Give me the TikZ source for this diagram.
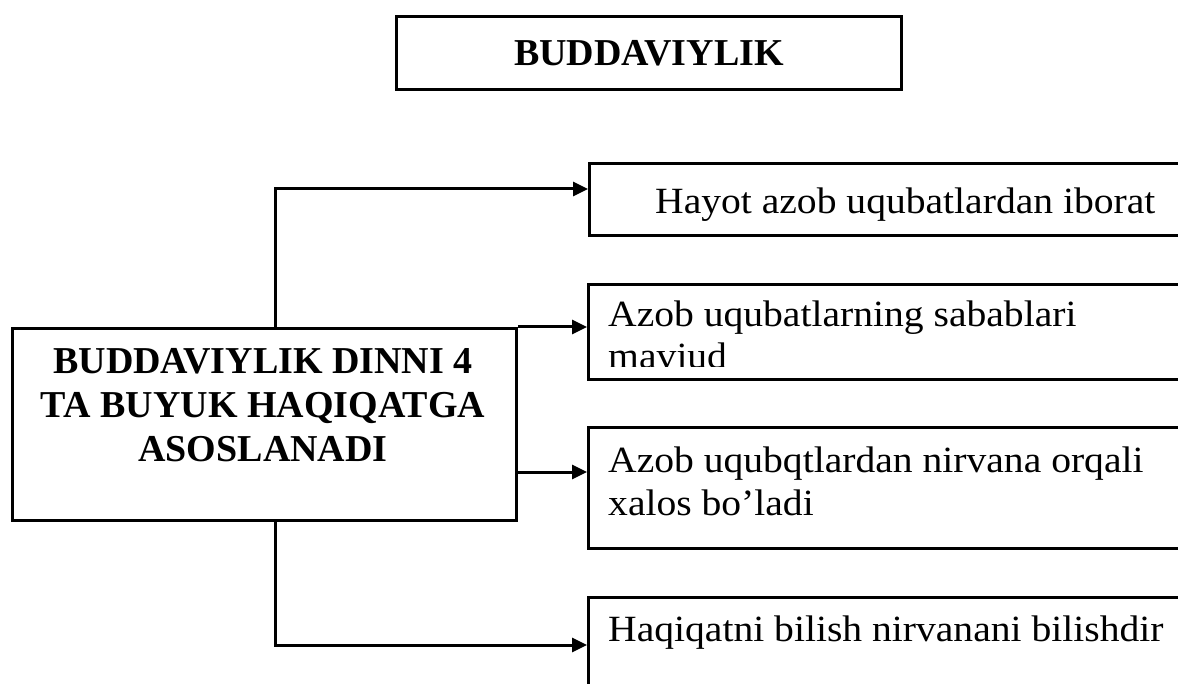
\documentclass[tikz,border=0pt]{standalone}
\usepackage{fontspec}
\setmainfont{Liberation Serif}
\newfontfamily\wideserif[FakeStretch=1.07]{Liberation Serif}
\usetikzlibrary{arrows.meta}
\tikzset{
  box/.style={draw, line width=3pt, rectangle, inner sep=0pt, anchor=north west},
  arr/.style={line width=3pt, -{Triangle[length=15pt,width=14pt]}},
  bigtxt/.style={font=\fontsize{38}{44}\selectfont\bfseries, align=center, inner sep=0pt},
  txt/.style={font=\wideserif\fontsize{37}{42}\selectfont, align=left, inner sep=0pt, anchor=base west},
}
\begin{document}
\begin{tikzpicture}[x=1pt,y=-1pt]
\clip (0,0) rectangle (1178,684);
\fill[white] (0,0) rectangle (1178,684);
% title
\node[box, minimum width=505pt, minimum height=73pt] (title) at (395,15) {};
\node[bigtxt] (titletxt) at (title.center) {BUDDAVIYLIK};
% main box
\node[box, minimum width=504pt, minimum height=192pt] (main) at (11,327) {};
\node[bigtxt, anchor=north] (maintxt) at (263,348) {BUDDAVIYLIK DINNI 4\\TA BUYUK HAQIQATGA\\ASOSLANADI};
% right boxes
\node[box, minimum width=620pt, minimum height=72pt] (b1) at (588,162) {};
\node[box, minimum width=620pt, minimum height=95pt] (b2) at (587,283) {};
\node[box, minimum width=620pt, minimum height=121pt] (b3) at (587,426) {};
\node[box, minimum width=620pt, minimum height=120pt] (b4) at (587,596) {};
\node[txt] (t1) at (655,214) {Hayot azob uqubatlardan iborat};
\begin{scope}
\clip (590,285) rectangle (1178,367);
\node[txt] (t2) at (608,369) {Azob uqubatlarning sabablari\\mavjud};
\end{scope}
\node[txt, font=\wideserif\fontsize{37}{43}\selectfont] (t3) at (608,515) {Azob uqubqtlardan nirvana orqali\\xalos bo’ladi};
\node[txt] (t4) at (608,641) {Haqiqatni bilish nirvanani bilishdir};
% connectors
\coordinate (vx) at (275,0);
\draw[arr] (main.north -| vx) |- (b1.west |- 0,189);
\draw[arr] (main.north east) -- (main.north east -| b2.west);
\draw[arr] (main.east |- 0,472) -- (b3.west |- 0,472);
\draw[arr] (main.south -| vx) |- (b4.west |- 0,645);
\end{tikzpicture}
\end{document}
